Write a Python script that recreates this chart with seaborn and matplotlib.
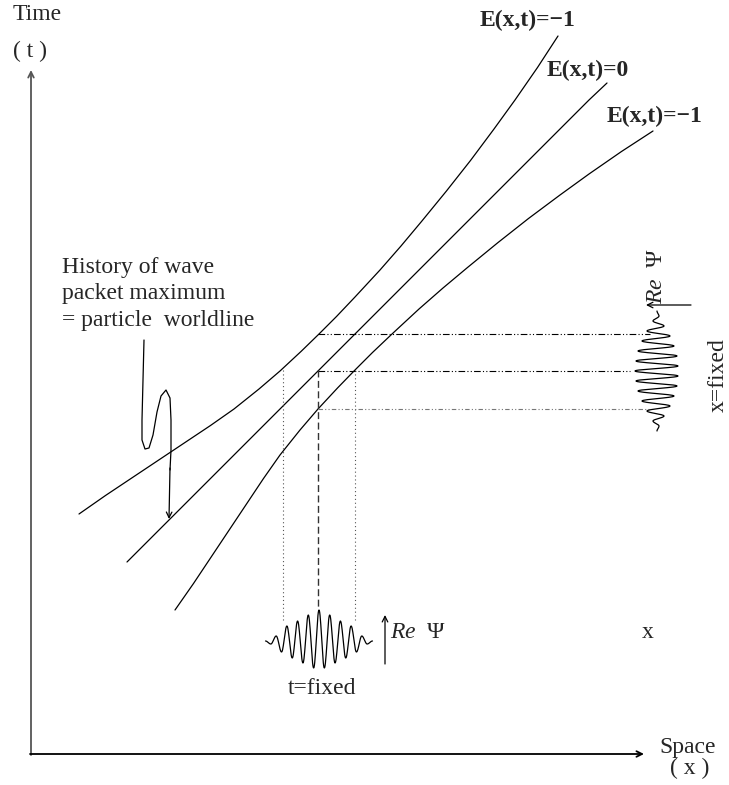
import numpy as np
import pandas as pd
import matplotlib
matplotlib.use("Agg")
import matplotlib.pyplot as plt
import seaborn as sns

# curve samples, pixel coords (x right, y down)
curve_lo_x = [79, 105.5, 129.5, 156.5, 183.5, 210.5, 234, 259, 280, 301.25, 319, 336.5,
              355, 380, 401, 421.5, 446.25, 470.5, 494, 515, 537.5, 558]
curve_lo_y = [514, 495.5, 479.5, 461.5, 443.5, 425.5, 409, 389, 371, 351.25, 334, 316.5,
              297, 270, 246, 221.5, 191.25, 160.5, 129, 100, 67.5, 36]
curve_mid_x = [127, 169, 318, 589, 607]
curve_mid_y = [562, 520, 371, 100, 83]
curve_hi_x = [175, 193.5, 209.5, 227.5, 245.5, 263.5, 280, 300, 318, 337.75, 355, 372.5,
              392, 419, 443, 467.5, 497.75, 528.5, 560, 589, 621.5, 653]
curve_hi_y = [610, 583.5, 559.5, 532.5, 505.5, 478.5, 455, 430, 409, 387.75, 370, 352.5,
              334, 309, 288, 267.5, 242.75, 218.5, 195, 174, 151.5, 131]

labels = ["E(x,t)=\u22121", "E(x,t)=0", "E(x,t)=\u22121"]

# wave packet extrema, centre outwards (signed: + = up / left)
packet_t = [31, -27, 26, -22, 20, -17, 15, -11, 5, -3, 0]
packet_x = [-22, 21, -21, 20, -19, 17, -15, 13, -10, 7, -4, 2, 0]

# worldline pointer
squig_x = [144, 143, 142, 142, 145, 149, 153, 157, 161, 166, 170, 171, 171, 170]
squig_y = [340, 380, 420, 440, 449, 448, 435, 412, 396, 390, 398, 420, 450, 470]


def packet(amps, half):
    a = amps[::-1][:-1] + amps
    n = len(amps) - 1
    pos, val = [], []
    for k in range(len(a) - 1):
        s = np.linspace(0, 1, 16)
        pos += list((k - n + s) * half)
        val += list(a[k] + (a[k + 1] - a[k]) * (1 - np.cos(np.pi * s)) / 2)
    return np.array(pos), np.array(val)


sns.set_style("white")
plt.rcParams['font.family'] = ['Liberation Serif', 'DejaVu Serif']
plt.rcParams['mathtext.fontset'] = 'custom'
plt.rcParams['mathtext.it'] = 'Liberation Serif:italic'
plt.rcParams['mathtext.rm'] = 'Liberation Serif'

fig = plt.figure(figsize=(7.29, 7.85), dpi=100)
ax = fig.add_axes([0, 0, 1, 1])
ax.set_xlim(0, 729)
ax.set_ylim(785, 0)
ax.axis('off')

# axes arrows
ax.annotate("", xy=(31, 70), xytext=(31, 755),
            arrowprops=dict(arrowstyle='->', lw=1.3, color='#555555', shrinkA=0, shrinkB=0))
ax.annotate("", xy=(644, 754), xytext=(30, 754),
            arrowprops=dict(arrowstyle='->', lw=1.3, color='black', shrinkA=0, shrinkB=0))

# E=const curves
for cx, cy in [(curve_lo_x, curve_lo_y), (curve_mid_x, curve_mid_y), (curve_hi_x, curve_hi_y)]:
    sns.lineplot(x=cx, y=cy, ax=ax, color='black', lw=0.9, sort=False, estimator=None)

# projection lines
ax.plot([318, 650], [334, 334], color='black', lw=0.8, ls=(0, (6, 2, 1, 2, 1, 2)))
ax.plot([318, 630], [371, 371], color='black', lw=0.8, ls=(0, (6, 2, 1, 2, 1, 2)))
ax.plot([318, 650], [409, 409], color='#777777', lw=0.8, ls=(0, (4, 2, 1, 2, 1, 2)))
ax.plot([283, 283], [370, 622], color='#555555', lw=0.8, ls=(0, (1, 2.5)))
ax.plot([318, 318], [370, 607], color='#333333', lw=1.0, ls=(0, (5, 2.5)))
ax.plot([355, 355], [370, 622], color='#555555', lw=0.8, ls=(0, (1, 2.5)))

# t=fixed packet (horizontal)
px, pv = packet(packet_t, 5.35)
sns.lineplot(x=319 + px, y=641 - pv, ax=ax, color='black', lw=0.9, sort=False, estimator=None)
ax.annotate("", xy=(385, 615), xytext=(385, 664),
            arrowprops=dict(arrowstyle='->', lw=0.9, color='black', shrinkA=0, shrinkB=0))
ax.text(390, 633, r"$\mathit{Re}$  Ψ", fontsize=17, va='center', ha='left')
ax.text(322, 688, "t=fixed", fontsize=17, va='center', ha='center')

# x=fixed packet (vertical)
qx, qv = packet(packet_x, 5.0)
sns.lineplot(x=657 + qv, y=371 + qx, ax=ax, color='black', lw=0.9, sort=False, estimator=None)
ax.annotate("", xy=(646, 305), xytext=(691, 305),
            arrowprops=dict(arrowstyle='->', lw=0.9, color='black', shrinkA=0, shrinkB=0))
ax.text(657, 276, r"$\mathit{Re}$  Ψ", fontsize=17, va='center', ha='center', rotation=90)
ax.text(718, 375, "x=fixed", fontsize=17, va='center', ha='center', rotation=90)

# worldline pointer
ax.plot(squig_x, squig_y, color='black', lw=0.9)
ax.annotate("", xy=(169, 519), xytext=(170, 468),
            arrowprops=dict(arrowstyle='->', lw=0.9, color='black', shrinkA=0, shrinkB=0))
ax.text(62, 294, "History of wave\npacket maximum\n= particle  worldline", fontsize=17,
        va='center', ha='left', linespacing=1.36)

# labels
ax.text(528, 20, labels[0], fontsize=17, fontweight='bold', ha='center', va='center')
ax.text(588, 70, labels[1], fontsize=17, fontweight='bold', ha='center', va='center')
ax.text(655, 116, labels[2], fontsize=17, fontweight='bold', ha='center', va='center')

ax.text(37, 14, "Time", fontsize=17, ha='center', va='center')
ax.text(30, 51, "( t )", fontsize=17, ha='center', va='center')
ax.text(688, 748, "Space", fontsize=17, ha='center', va='center')
ax.text(690, 768, "( x )", fontsize=17, ha='center', va='center')
ax.text(648, 633, "x", fontsize=17, ha='center', va='center')

fig.savefig("out.png", dpi=100)
